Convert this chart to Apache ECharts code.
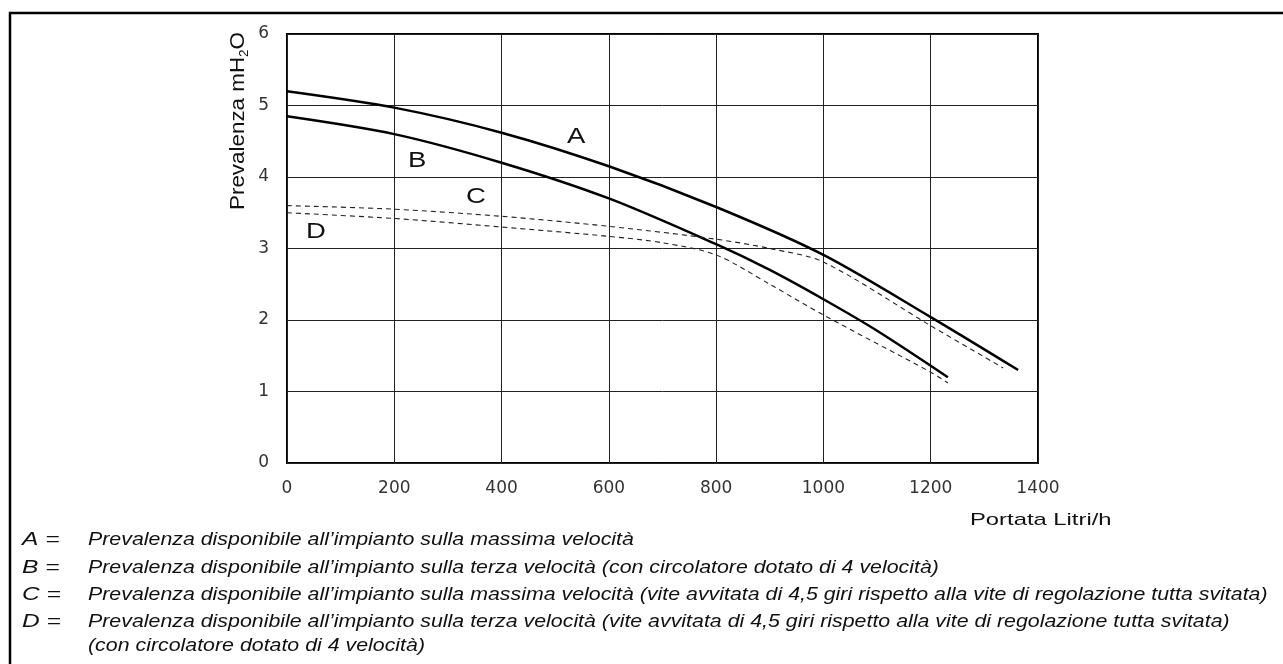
<!DOCTYPE html>
<html>
<head>
<meta charset="utf-8">
<script src="https://cdn.jsdelivr.net/npm/echarts@6/dist/echarts.min.js"></script>
<style>
  html, body { margin: 0; padding: 0; background: #fff; }
  #chart { width: 1283px; height: 664px; }
</style>
</head>
<body>
<div id="chart"></div>
<script>
// portata (Litri/h) e prevalenza (mH2O)
const flowA = [0, 200, 400, 600, 800, 1000, 1200, 1363]
const headA = [5.2, 4.97, 4.62, 4.15, 3.58, 2.91, 2.04, 1.3]
const flowB = [0, 200, 400, 600, 800, 900, 1000, 1100, 1232]
const headB = [4.85, 4.6, 4.2, 3.7, 3.06, 2.7, 2.29, 1.85, 1.2]
const flowC = [0, 200, 400, 600, 800, 900, 1000, 1200, 1335]
const headC = [3.6, 3.55, 3.45, 3.31, 3.13, 3.0, 2.81, 1.92, 1.33]
const flowD = [0, 200, 400, 600, 700, 800, 900, 1000, 1200, 1232]
const headD = [3.5, 3.42, 3.3, 3.17, 3.08, 2.91, 2.5, 2.07, 1.27, 1.12]

const xTicks = [0, 200, 400, 600, 800, 1000, 1200, 1400]
const yTicks = [0, 1, 2, 3, 4, 5, 6]

const legendKeys = ['A =', 'B =', 'C =', 'D =', '']
const legendTexts = [
  'Prevalenza disponibile all\u2019impianto sulla massima velocità',
  'Prevalenza disponibile all\u2019impianto sulla terza velocità (con circolatore dotato di 4 velocità)',
  'Prevalenza disponibile all\u2019impianto sulla massima velocità (vite avvitata di 4,5 giri rispetto alla vite di regolazione tutta svitata)',
  'Prevalenza disponibile all\u2019impianto sulla terza velocità (vite avvitata di 4,5 giri rispetto alla vite di regolazione tutta svitata)',
  '(con circolatore dotato di 4 velocità)'
]

const zip = (xs, ys) => xs.map((x, i) => [x, ys[i]])

const chart = echarts.init(document.getElementById('chart'))

const tickFont = { fontFamily: 'DejaVu Sans', fontSize: 17, color: '#333' }
const stretch = 1.22 // il disegno originale è allargato in orizzontale

const legendGraphics = []
const legendY = [541, 569, 596, 623, 647]
legendTexts.forEach((t, i) => {
  if (legendKeys[i]) {
    legendGraphics.push({
      type: 'text', x: 22, y: legendY[i] - 10, scaleX: 1.4,
      style: { text: legendKeys[i], font: 'italic 17.5px "Liberation Sans", Arial', fill: '#111' }
    })
  }
  legendGraphics.push({
    type: 'text', x: 88, y: legendY[i] - 10, scaleX: stretch,
    style: { text: t, font: 'italic 17.5px "Liberation Sans", Arial', fill: '#111' }
  })
})

const curveLabel = (txt, x, y) => ({
  type: 'text', x: x, y: y, scaleX: 1.25,
  style: { text: txt, font: '22px "Liberation Sans", Arial', fill: '#111' }
})

chart.setOption({
  animation: false,
  grid: {
    left: 287, right: 245, top: 34, bottom: 201,
    show: true, borderColor: '#000', borderWidth: 2
  },
  xAxis: {
    type: 'value', min: 0, max: 1400, interval: 200,
    axisLine: { show: false },
    axisTick: { show: false },
    axisLabel: Object.assign({ margin: 17, formatter: v => String(v) }, tickFont),
    splitLine: { lineStyle: { color: '#222', width: 1 } }
  },
  yAxis: {
    type: 'value', min: 0, max: 6, interval: 1,
    axisLine: { show: false },
    axisTick: { show: false },
    axisLabel: Object.assign({ margin: 18, formatter: v => String(v) }, tickFont),
    splitLine: { lineStyle: { color: '#222', width: 1 } }
  },
  graphic: [
    {
      type: 'polyline',
      shape: { points: [[10, 664], [10, 13], [1283, 13]] },
      style: { stroke: '#000', lineWidth: 2.5, fill: null }
    },
    {
      type: 'text', x: 970, y: 512, scaleX: 1.4,
      style: { text: 'Portata Litri/h', font: '17px "Liberation Sans", Arial', fill: '#111' }
    },
    {
      type: 'text', x: 226, y: 210, rotation: Math.PI / 2, scaleX: 1.12,
      style: {
        rich: {
          n: { fontSize: 20, fontFamily: 'Liberation Sans', fill: '#111' },
          s: { fontSize: 12, fontFamily: 'Liberation Sans', fill: '#111', padding: [13, 0, 0, 0] }
        },
        text: '{n|Prevalenza mH}{s|2}{n|O}'
      }
    },
    curveLabel('A', 567, 126),
    curveLabel('B', 408, 150),
    curveLabel('C', 466, 186),
    curveLabel('D', 306, 221)
  ].concat(legendGraphics),
  series: [
    {
      name: 'A', type: 'line', data: zip(flowA, headA), smooth: 0.3, symbol: 'none',
      lineStyle: { color: '#000', width: 2.5 }
    },
    {
      name: 'B', type: 'line', data: zip(flowB, headB), smooth: 0.3, symbol: 'none',
      lineStyle: { color: '#000', width: 2.5 }
    },
    {
      name: 'C', type: 'line', data: zip(flowC, headC), smooth: 0.3, symbol: 'none',
      lineStyle: { color: '#222', width: 1.1, type: [5, 4] }
    },
    {
      name: 'D', type: 'line', data: zip(flowD, headD), smooth: 0.3, symbol: 'none',
      lineStyle: { color: '#222', width: 1.1, type: [5, 4] }
    }
  ]
})
</script>
</body>
</html>
